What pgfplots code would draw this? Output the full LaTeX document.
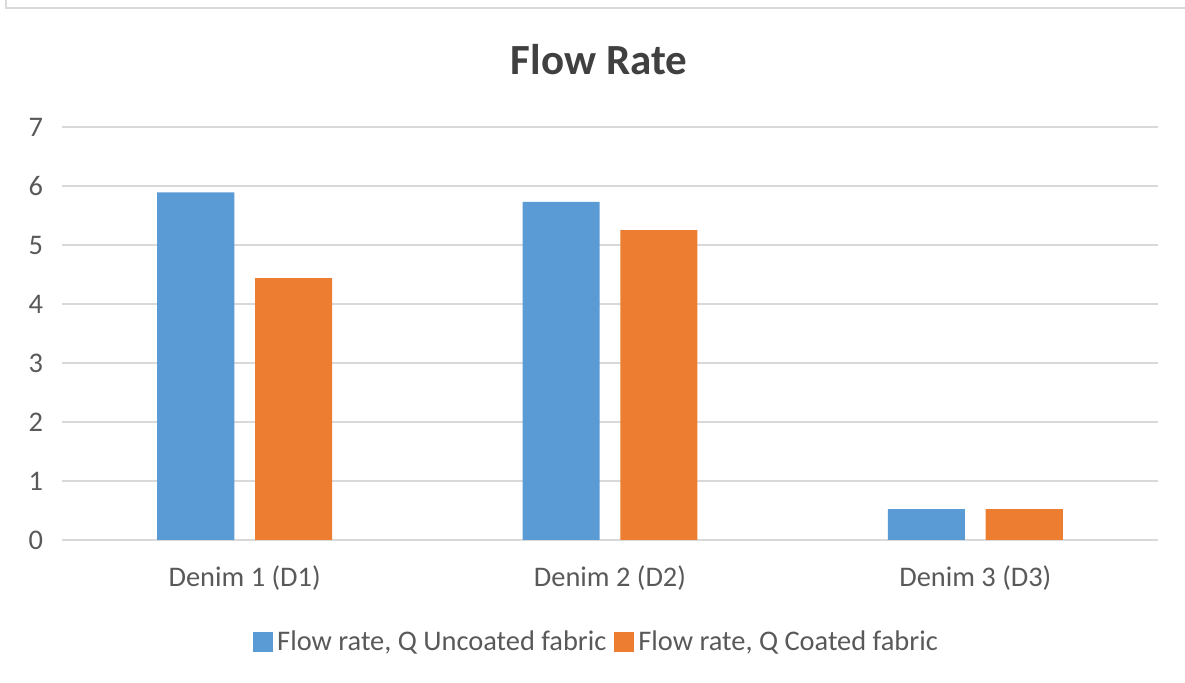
\documentclass[border=0pt]{standalone}
\usepackage{pgfplots}
\pgfplotsset{compat=1.18}
\usepackage{fontspec}
\setmainfont{Carlito}
\definecolor{cblue}{HTML}{5B9BD5}
\definecolor{corange}{HTML}{ED7D31}
\definecolor{ctext}{HTML}{595959}
\definecolor{ctitle}{HTML}{404040}
\definecolor{cgrid}{HTML}{D9D9D9}
\begin{document}
\begin{tikzpicture}
\useasboundingbox (0pt,0pt) rectangle (592.5pt,341.5pt);
\draw[cgrid, line width=1.2pt] (3pt,341.5pt) -- (3pt,337.5pt) -- (592.5pt,337.5pt);
\begin{axis}[
  at={(31pt,71.5pt)}, anchor=south west,
  scale only axis, width=548pt, height=206.5pt,
  xmin=-0.5, xmax=2.5, ymin=0, ymax=7,
  ytick={0,1,...,7},
  xtick={0,1,2},
  xticklabels={Denim 1 (D1),Denim 2 (D2),Denim 3 (D3)},
  major tick length=0pt,
  axis line style={draw=none},
  ymajorgrids, grid style={cgrid, line width=0.9pt},
  /pgf/number format/assume math mode=true,
  tick label style={font=\fontsize{14.2}{17}\selectfont, text=ctext},
  yticklabel style={xshift=-6pt},
  xticklabel style={yshift=-9.5pt},
  title={Flow Rate},
  title style={at={(rel axis cs:0.49,1.133)}, anchor=center, font=\fontsize{21.5}{26}\selectfont\bfseries, text=ctitle},
  legend columns=2,
  legend style={at={(rel axis cs:0.4886,-0.247)}, anchor=center, draw=none, fill=none,
    font=\fontsize{14.2}{17}\selectfont, text=ctext, /tikz/every even column/.append style={column sep=2pt}},
  ybar, bar width=0.211,
]
\addplot[fill=cblue, draw=none, bar shift=-0.134, legend image code/.code={\fill[cblue] (-2pt,-5pt) rectangle (8pt,5pt);}] coordinates {(0,5.89) (1,5.73) (2,0.525)};
\addplot[fill=corange, draw=none, bar shift=0.134, legend image code/.code={\fill[corange] (-2pt,-5pt) rectangle (8pt,5pt);}] coordinates {(0,4.44) (1,5.25) (2,0.525)};
\legend{Flow rate{,} Q Uncoated fabric, Flow rate{,} Q Coated fabric}
\end{axis}
\end{tikzpicture}
\end{document}
